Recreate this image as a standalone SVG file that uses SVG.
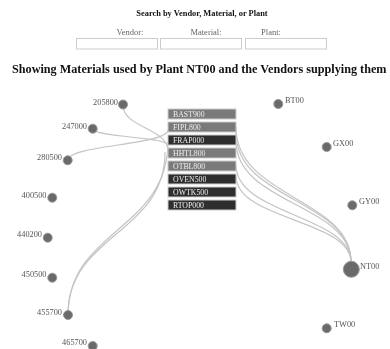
<svg xmlns="http://www.w3.org/2000/svg" width="390" height="349" viewBox="0 0 390 349">
<defs>
<filter id="gray" x="0" y="0" width="390" height="349" filterUnits="userSpaceOnUse"><feColorMatrix type="saturate" values="0"/></filter>
</defs>
<style>
.hdr{font-family:"Liberation Serif",serif;font-weight:bold;fill:#111}
.lbl{font-family:"Liberation Serif",serif;font-size:8.5px;fill:#666}
.inp{fill:#fff;stroke:#ccc;stroke-width:1}
.link{fill:none;stroke:#c4c4c4;stroke-width:1.2}
.node{fill:#6a6a6a;stroke:#999;stroke-width:1}
.vt{font-family:"Liberation Serif",serif;font-size:8.3px;fill:#555}
.mat rect{stroke:#ccc;stroke-width:1}
.mat text{font-family:"Liberation Serif",serif;font-size:7.8px;fill:#eee}
.m1{fill:#7a7a7a}
.m2{fill:#2e2e2e}
</style>
<g filter="url(#gray)">
<rect width="390" height="349" fill="#fff"/>
<g id="search">
<text class="hdr" x="202" y="16" font-size="8.4" text-anchor="middle">Search by Vendor, Material, or Plant</text>
<text class="lbl" x="130" y="35" text-anchor="middle">Vendor:</text>
<text class="lbl" x="206" y="35" text-anchor="middle">Material:</text>
<text class="lbl" x="271" y="35" text-anchor="middle">Plant:</text>
<rect class="inp" x="76.5" y="38.5" width="81" height="10.5"/>
<rect class="inp" x="160.5" y="38.5" width="81" height="10.5"/>
<rect class="inp" x="245.5" y="38.5" width="81" height="10.5"/>
</g>
<text id="title" class="hdr" x="12" y="73" font-size="12.2">Showing Materials used by Plant NT00 and the Vendors supplying them</text>
<g id="links">
<path class="link" d="M123,105 C123,128 168,128 168,151"/>
<path class="link" d="M93,129 C93,137 168,137 168,145"/>
<path class="link" d="M68,160 C68,145 168,145 168,130"/>
<path class="link" d="M68,315 C68,230 168,230 168,142"/>
<path class="link" d="M68,315 C68,234 165,234 165,152"/>
<path class="link" d="M236,127 C236,198 351,198 351,262"/>
<path class="link" d="M236,133 C236,200 351,200 351,262"/>
<path class="link" d="M236,141 C236,204 351,204 351,262"/>
<path class="link" d="M236,165 C236,215 351,215 351,262"/>
<path class="link" d="M236,176 C236,220 351,220 351,262"/>
</g>
<g id="materials" class="mat">
<g id="m-BAST900"><rect class="m1" x="168" y="109" width="68" height="10"/><text x="173" y="117">BAST900</text></g>
<g id="m-FIPL800"><rect class="m1" x="168" y="122" width="68" height="10"/><text x="173" y="130">FIPL800</text></g>
<g id="m-FRAP000"><rect class="m2" x="168" y="135" width="68" height="10"/><text x="173" y="143">FRAP000</text></g>
<g id="m-HHTL800"><rect class="m1" x="168" y="148" width="68" height="10"/><text x="173" y="156">HHTL800</text></g>
<g id="m-OTBL800"><rect class="m1" x="168" y="161" width="68" height="10"/><text x="173" y="169">OTBL800</text></g>
<g id="m-OVEN500"><rect class="m2" x="168" y="174" width="68" height="10"/><text x="173" y="182">OVEN500</text></g>
<g id="m-OWTK500"><rect class="m2" x="168" y="187" width="68" height="10"/><text x="173" y="195">OWTK500</text></g>
<g id="m-RTOP000"><rect class="m2" x="168" y="200" width="68" height="10"/><text x="173" y="208">RTOP000</text></g>
</g>
<g id="vendors">
<g id="v-205800"><circle class="node" cx="123" cy="104.5" r="4.5"/><text class="vt" x="118" y="104.5" text-anchor="end">205800</text></g>
<g id="v-247000"><circle class="node" cx="92.7" cy="128.7" r="4.5"/><text class="vt" x="87" y="128.5" text-anchor="end">247000</text></g>
<g id="v-280500"><circle class="node" cx="67.7" cy="160.3" r="4.5"/><text class="vt" x="62" y="160" text-anchor="end">280500</text></g>
<g id="v-400500"><circle class="node" cx="52.3" cy="197.7" r="4.5"/><text class="vt" x="46.5" y="197.5" text-anchor="end">400500</text></g>
<g id="v-440200"><circle class="node" cx="47.7" cy="237.7" r="4.5"/><text class="vt" x="42" y="237" text-anchor="end">440200</text></g>
<g id="v-450500"><circle class="node" cx="52.3" cy="277.7" r="4.5"/><text class="vt" x="46.5" y="277" text-anchor="end">450500</text></g>
<g id="v-455700"><circle class="node" cx="68" cy="315" r="4.5"/><text class="vt" x="62" y="314.5" text-anchor="end">455700</text></g>
<g id="v-465700"><circle class="node" cx="92.7" cy="346" r="4.5"/><text class="vt" x="87" y="345" text-anchor="end">465700</text></g>
</g>
<g id="plants">
<g id="p-BT00"><circle class="node" cx="278.3" cy="104" r="4.5"/><text class="vt" x="285" y="103">BT00</text></g>
<g id="p-GX00"><circle class="node" cx="326.7" cy="147" r="4.5"/><text class="vt" x="333" y="146">GX00</text></g>
<g id="p-GY00"><circle class="node" cx="352.3" cy="205.3" r="4.5"/><text class="vt" x="359" y="204">GY00</text></g>
<g id="p-NT00"><circle class="node" cx="351.3" cy="269.3" r="8"/><text class="vt" x="360" y="269">NT00</text></g>
<g id="p-TW00"><circle class="node" cx="326.7" cy="328.3" r="4.5"/><text class="vt" x="334" y="327">TW00</text></g>
</g>
</g>
</svg>
